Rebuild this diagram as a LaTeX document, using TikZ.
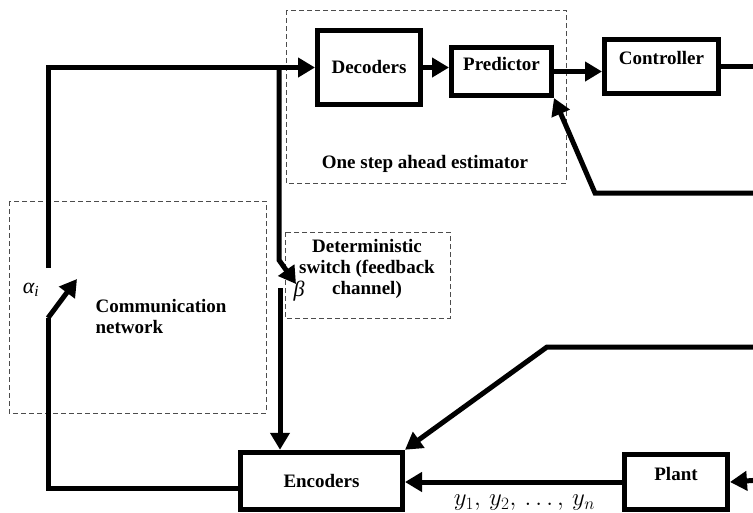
\documentclass[tikz,border=0pt]{standalone}
\usepackage{fontspec}
\setmainfont{Liberation Serif}
\usetikzlibrary{arrows.meta, calc}
\tikzset{
  blockbox/.style={
    rectangle, draw=black, line width=5pt,
    fill=white, inner sep=2pt, text height=13pt,
    font=\bfseries\fontsize{19}{21}\selectfont
  },
  groupbox/.style={draw=black!70, line width=0.9pt, dash pattern=on 5pt off 3pt},
  grouplabel/.style={font=\bfseries\fontsize{19}{21}\selectfont, align=center},
  greeklabel/.style={font=\itshape\fontsize{22}{22}\selectfont},
  wire/.style={line width=5pt},
  arrow/.style={-{Triangle[length=17pt, width=19pt]}, line width=5pt}
}

\begin{document}
\begin{tikzpicture}[x=1pt, y=-1pt]
  \useasboundingbox (0,0) rectangle (753,512);
  \clip (0,0) rectangle (753,512);

  % Dashed groups
  \draw[groupbox] (286,10) rectangle (566,183);
  \node[grouplabel] (estlbl) at (425,164) {One step ahead estimator};
  \draw[groupbox] (9,201) rectangle (266,413);
  \node[grouplabel, align=left, anchor=west] (netlbl) at (92,316) {Communication\\network};
  \draw[groupbox] (285,232) rectangle (450,318);
  \node[grouplabel] (swlbl) at (367,269) {Deterministic\\switch (feedback\\channel)};

  % Blocks
  \node[blockbox, minimum width=103pt, minimum height=74pt] (dec) at (369,67.5) {Decoders};
  \node[blockbox, minimum width=100pt, minimum height=48pt, text depth=16pt] (pred) at (501.5,71.5) {Predictor};
  \node[blockbox, minimum width=114pt, minimum height=54pt, text depth=18pt] (ctrl) at (661.5,66.5) {Controller};
  \node[blockbox, minimum width=162pt, minimum height=57.5pt] (enc) at (321.5,481) {Encoders};
  \node[blockbox, minimum width=103pt, minimum height=55.5pt, text depth=17pt] (plant) at (676,482) {Plant};

  % Switch contacts and free ends at the right edge
  \coordinate (atop) at (48,268);
  \coordinate (abot) at (48,318);
  \coordinate (atip) at (77,279);
  \coordinate (bjoin) at (279,68);
  \coordinate (bbend) at (279,260);
  \coordinate (btip) at (296,284);
  \coordinate (bbot) at (280,288);
  \coordinate (ctrlout) at (760,66.5);
  \coordinate (fbpred) at (760,193);
  \coordinate (fbkink) at (595,193);
  \coordinate (fbenc) at (760,347);
  \coordinate (enckink) at (547,347);
  \coordinate (plantin) at (760,480);

  \node[greeklabel] (alpha) at (31,290) {α\textsubscript{i}};
  \node[greeklabel] (beta) at (299,291) {β};

  % Forward path
  \draw[arrow] (atop) |- (dec.west);
  \draw[arrow] (dec.east) -- (dec.east -| pred.west);
  \draw[arrow] (pred.east) -- (pred.east -| ctrl.west);
  \draw[wire] (ctrl.east) -- (ctrlout);

  % Switches
  \draw[arrow] (abot) -- (atip);
  \draw[arrow] (bjoin) -- (bbend) -- (btip);
  \draw[arrow] (bbot) -- (bbot |- enc.north);
  \draw[wire] (abot) |- ($(enc.west)+(0,7)$);

  % Feedback paths
  \draw[arrow] (fbpred) -- (fbkink) -- (pred.south east);
  \draw[arrow] (fbenc) -- (enckink) -- (enc.north east);
  \draw[arrow] (plantin) -- (plant.east);
  \draw[arrow] (plant.west) -- node[pos=0.45, below=7pt, font=\fontsize{26}{26}\selectfont]
    {$y_1,\, y_2,\, \dots,\, y_n$} (plant.west -| enc.east);

\end{tikzpicture}
\end{document}
